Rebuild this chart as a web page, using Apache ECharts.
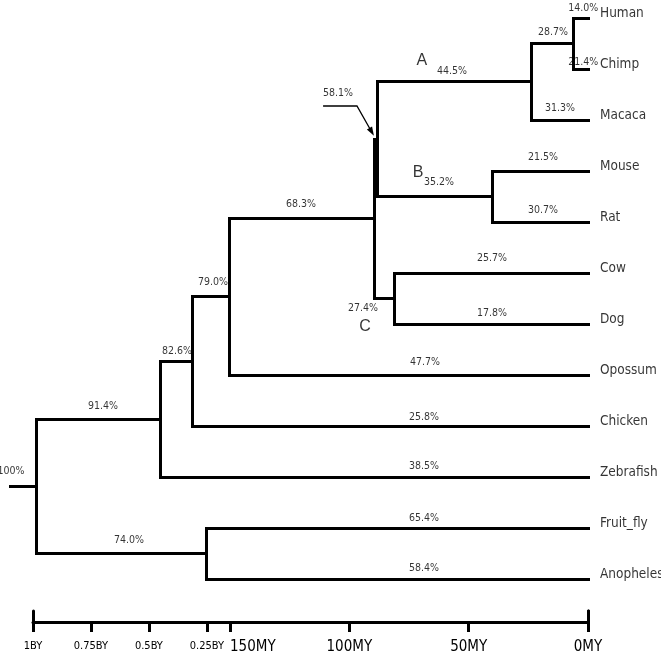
<!DOCTYPE html>
<html>
<head>
<meta charset="utf-8">
<script src="https://cdn.jsdelivr.net/npm/echarts@6/dist/echarts.min.js"></script>
<style>html,body{margin:0;padding:0;background:#fff}#c{width:661px;height:655px}</style>
</head>
<body>
<div id="c"></div>
<script>
// ---------- data ----------
const species = ['Human','Chimp','Macaca','Mouse','Rat','Cow','Dog','Opossum','Chicken','Zebrafish','Fruit_fly','Anopheles'];
// internal nodes: name, divergence age (million years), children
const cladeNames = ['HC','Primates','Rodents','Euarchontoglires','Laurasiatheria','Boreoeutheria','Mammals','Amniotes','Vertebrates','Insects','Root'];
const cladeAges = [6, 23.5, 40, 88.3, 81, 89.5, 152, 310, 450, 250, 987];
const cladeChildren = [
  ['Human','Chimp'], ['HC','Macaca'], ['Mouse','Rat'], ['Primates','Rodents'],
  ['Cow','Dog'], ['Euarchontoglires','Laurasiatheria'], ['Boreoeutheria','Opossum'],
  ['Mammals','Chicken'], ['Amniotes','Zebrafish'], ['Fruit_fly','Anopheles'], ['Vertebrates','Insects']
];
const rootStubAge = 1095;
const breakAge = 150;
// branch support labels
const supportText = ['100%','91.4%','74.0%','82.6%','79.0%',
  '68.3%','58.1%','44.5%','35.2%','27.4%','28.7%','31.3%','14.0%','21.4%',
  '21.5%','30.7%','25.7%','17.8%','47.7%','25.8%','38.5%','65.4%','58.4%'];
const cladeLetters = ['A','B','C'];
// axis ticks
const byTickAges = [1000, 750, 500, 250];
const byTickLabels = ['1BY','0.75BY','0.5BY','0.25BY'];
const myTickAges = [150, 100, 50, 0];
const myTickLabels = ['150MY','100MY','50MY','0MY'];

// ---------- layout (label anchors in [age, row], alignment) ----------
const supportPos = [
  [1095, 8.88], [698, 7.61], [586, 10.24], [379, 6.53], [223, 5.18],
  [120.3, 3.65], [104.8, 1.47], [57.0, 1.04], [62.4, 3.22], [94.3, 5.69], [14.7, 0.275], [11.7, 1.765], [-4.3, -0.2], [-4.3, 0.86],
  [18.9, 2.725], [18.9, 3.765], [40.2, 4.706], [40.2, 5.784], [68.3, 6.745], [68.7, 7.824], [68.7, 8.784], [68.7, 9.804], [68.7, 10.784]
];
const supportAlign = { '14.0%': 'right', '21.4%': 'right' };
const letterPos = [[69.6, 0.843], [71.2, 3.04], [93.4, 6.06]];
const arrowPts = [[111, 1.725], [96.8, 1.725], [89.7, 2.31]];

const FONT = "'DejaVu Sans Condensed','Liberation Sans Narrow','Liberation Sans',sans-serif";

// ---------- build tree ----------
const ageOf = {}, childrenOf = {};
species.forEach(s => ageOf[s] = 0);
cladeNames.forEach((n, i) => { ageOf[n] = cladeAges[i]; childrenOf[n] = cladeChildren[i]; });
const rowMemo = {};
function rowOf(n) {
  if (n in rowMemo) return rowMemo[n];
  const si = species.indexOf(n);
  const r = si >= 0 ? si : (rowOf(childrenOf[n][0]) + rowOf(childrenOf[n][1])) / 2;
  rowMemo[n] = r; return r;
}
const leftSegs = [], rightSegs = [];
function addSeg(a1, y1, a2, y2) {
  if (a1 === a2) { (a1 > breakAge ? leftSegs : rightSegs).push([-a1, y1, -a2, y2]); return; }
  const hi = Math.max(a1, a2), lo = Math.min(a1, a2);
  if (lo >= breakAge) leftSegs.push([-hi, y1, -lo, y2]);
  else if (hi <= breakAge) rightSegs.push([-hi, y1, -lo, y2]);
  else { leftSegs.push([-hi, y1, -breakAge, y2]); rightSegs.push([-breakAge, y1, -lo, y2]); }
}
cladeNames.forEach(n => {
  const a = ageOf[n];
  const [c1, c2] = childrenOf[n];
  addSeg(a, rowOf(c1), a, rowOf(c2));
  addSeg(a, rowOf(c1), ageOf[c1], rowOf(c1));
  addSeg(a, rowOf(c2), ageOf[c2], rowOf(c2));
});
addSeg(rootStubAge, rowOf('Root'), ageOf['Root'], rowOf('Root'));

const snap = v => Math.round(v - 0.5) + 0.5;
function renderSeg(params, api) {
  const p1 = api.coord([api.value(0), api.value(1)]);
  const p2 = api.coord([api.value(2), api.value(3)]);
  return { type: 'line', shape: { x1: snap(p1[0]), y1: snap(p1[1]), x2: snap(p2[0]), y2: snap(p2[1]) },
    style: { stroke: '#000', lineWidth: 3, lineCap: 'square' } };
}
function renderArrow(params, api) {
  const pts = arrowPts.map(p => api.coord([-p[0], p[1]]));
  const n = pts.length, tip = pts[n - 1], prev = pts[n - 2];
  const dx = tip[0] - prev[0], dy = tip[1] - prev[1], L = Math.hypot(dx, dy);
  const ux = dx / L, uy = dy / L, hl = 9, hw = 3;
  const bx = tip[0] - ux * hl, by = tip[1] - uy * hl;
  const line = pts.slice(0, n - 1).concat([[bx + ux * 2, by + uy * 2]]);
  return { type: 'group', children: [
    { type: 'polyline', shape: { points: line }, style: { stroke: '#000', lineWidth: 1.3, fill: null } },
    { type: 'polygon', shape: { points: [tip, [bx - uy * hw, by + ux * hw], [bx + uy * hw, by - ux * hw]] }, style: { fill: '#000' } }
  ]};
}

const supportLeft = [], supportRight = [];
supportText.forEach((t, i) => {
  const p = supportPos[i];
  const item = { name: t, value: [-p[0], p[1]] };
  if (supportAlign[t]) item.label = { align: supportAlign[t] };
  (p[0] > breakAge ? supportLeft : supportRight).push(item);
});
const letterData = cladeLetters.map((t, i) => ({ name: t, value: [-letterPos[i][0], letterPos[i][1]] }));
const speciesData = species.map((s, i) => ({ name: s, value: [0, i] }));

const textLabel = (size, family) => ({ show: true, position: 'inside', formatter: '{b}', color: '#000', fontSize: size, fontFamily: family || FONT });

const axisLineStyle = { color: '#000', width: 3 };
const hiddenX = (g, min, max) => ({ gridIndex: g, type: 'value', min, max, show: false });
const bigTickY = (g, pos) => ({ gridIndex: g, type: 'value', min: 0, max: 1, position: pos,
  axisLine: { show: true, lineStyle: axisLineStyle }, axisTick: { show: false }, axisLabel: { show: false }, splitLine: { show: false } });
const option = {
  backgroundColor: '#fff',
  animation: false,
  grid: [
    { left: 33, width: 197, top: 18, height: 561 },
    { left: 230, width: 358, top: 18, height: 561 },
    { left: 33, width: 197, top: 611, height: 11 },
    { left: 230, width: 358, top: 611, height: 11 }
  ],
  xAxis: [
    hiddenX(0, -1000, -150),
    hiddenX(1, -150, 0),
    { gridIndex: 2, type: 'value', min: -1000, max: -150, interval: 250, position: 'bottom',
      splitLine: { show: false },
      axisLine: { show: true, lineStyle: axisLineStyle },
      axisTick: { show: true, length: 10, lineStyle: axisLineStyle, customValues: byTickAges.map(a => -a) },
      axisLabel: { show: true, margin: 19, fontSize: 11, color: '#000', fontFamily: FONT,
        customValues: byTickAges.map(a => -a),
        formatter: v => { const i = byTickAges.indexOf(Math.abs(v)); return i >= 0 ? byTickLabels[i] : ''; } } },
    { gridIndex: 3, type: 'value', min: -150, max: 0, interval: 50, position: 'bottom',
      splitLine: { show: false },
      axisLine: { show: true, lineStyle: axisLineStyle },
      axisTick: { show: true, length: 10, lineStyle: axisLineStyle, customValues: myTickAges.map(a => -a) },
      axisLabel: { show: true, margin: 18, fontSize: 15, color: '#000', fontFamily: FONT, alignMinLabel: 'left',
        customValues: myTickAges.map(a => -a),
        formatter: v => { const i = myTickAges.indexOf(Math.abs(v)); return i >= 0 ? myTickLabels[i] : ''; } } }
  ],
  yAxis: [
    { gridIndex: 0, type: 'value', min: 0, max: 11, inverse: true, show: false },
    { gridIndex: 1, type: 'value', min: 0, max: 11, inverse: true, show: false },
    bigTickY(2, 'left'),
    bigTickY(3, 'left'),
    bigTickY(3, 'right')
  ],
  series: [
    { type: 'custom', xAxisIndex: 0, yAxisIndex: 0, clip: false, renderItem: renderSeg, data: leftSegs, encode: { x: [0, 2], y: [1, 3] }, silent: true },
    { type: 'custom', xAxisIndex: 1, yAxisIndex: 1, clip: false, renderItem: renderSeg, data: rightSegs, encode: { x: [0, 2], y: [1, 3] }, silent: true },
    { type: 'custom', xAxisIndex: 1, yAxisIndex: 1, clip: false, renderItem: renderArrow, data: [[0, 0]], silent: true },
    { type: 'scatter', xAxisIndex: 0, yAxisIndex: 0, symbolSize: 0, clip: false, data: supportLeft, label: textLabel(10.5), silent: true },
    { type: 'scatter', xAxisIndex: 1, yAxisIndex: 1, symbolSize: 0, clip: false, data: supportRight, label: textLabel(10.5), silent: true },
    { type: 'scatter', xAxisIndex: 1, yAxisIndex: 1, symbolSize: 0, clip: false, data: letterData, label: textLabel(16, "'Liberation Sans','DejaVu Sans',sans-serif"), silent: true },
    { type: 'scatter', xAxisIndex: 1, yAxisIndex: 1, symbolSize: 0, clip: false, data: speciesData,
      label: { show: true, position: 'right', distance: 12, offset: [0, -5], formatter: '{b}', color: '#000', fontSize: 13.5, fontFamily: FONT }, silent: true }
  ]
};
const chart = echarts.init(document.getElementById('c'), null, { renderer: 'canvas' });
chart.setOption(option);
</script>
</body>
</html>
